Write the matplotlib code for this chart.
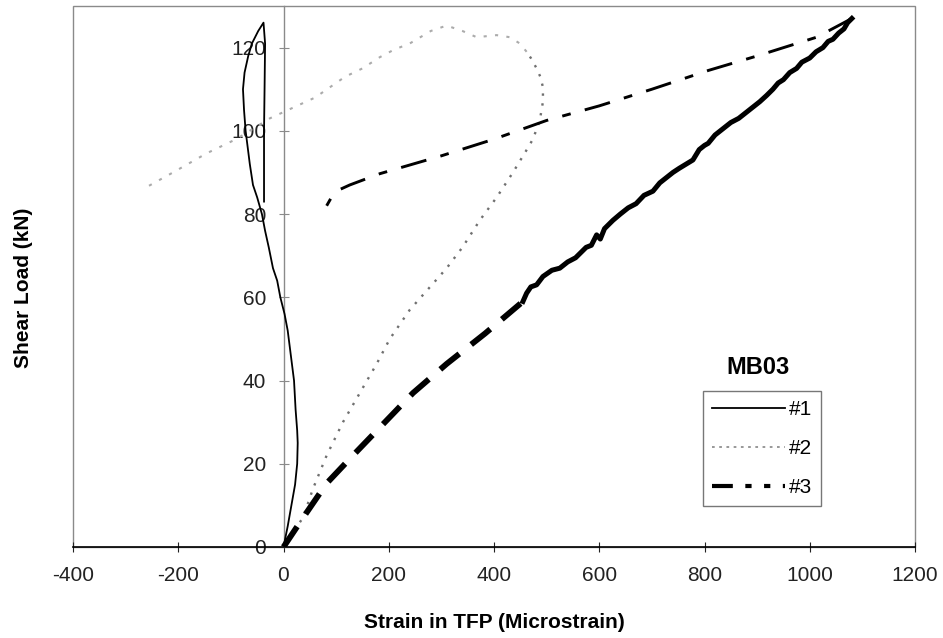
import matplotlib
matplotlib.use("Agg")
import matplotlib.pyplot as plt
from matplotlib.lines import Line2D
from matplotlib.patches import Rectangle

plt.rcParams['font.family'] = ['Liberation Sans', 'DejaVu Sans']

# Gauge #1: load vs strain
g1_strain = [0, 8, 15, 22, 26, 27, 26, 23, 20, 16, 12, 8, 2, -6, -12, -20, -28, -35, -41,
             -50, -58, -64, -68, -72, -75, -77, -74, -67, -60, -48, -38, -35, -36, -37, -37, -37]
g1_load = [0, 5, 10, 15, 20, 25, 28, 33, 40, 44, 48, 52, 56, 60, 64, 67, 72, 76, 80,
           84, 87, 92, 96, 100, 105, 110, 114, 118, 121, 124, 126, 121, 110, 100, 90, 83]

# Gauge #2
g2_strain = [0, 20, 37, 56, 82, 113, 145, 177, 202, 240, 275, 310, 340, 373, 405, 436, 460,
             474, 487, 493, 493, 488, 481, 470, 462, 449, 430, 405, 367, 340, 310, 280, 240,
             210, 183, 150, 117, 60, -26, -90, -146, -210, -267]
g2_load = [0, 4, 7, 14, 22, 30, 37, 44, 50, 57, 62, 67, 72, 78.5, 84, 90, 95,
           98, 102.5, 107, 110.5, 113, 115, 117.5, 119, 121, 122.5, 123, 122.5, 124, 125.3, 124, 121,
           119.5, 117.7, 115, 113, 108, 103, 98, 94.6, 90, 86]
g2_fade = 24  # readings after this index are drawn fainter

# Gauge #3: sparse initial loading, dense loading to peak, unloading
g3_strain = [0, 37, 82, 132, 189, 246, 310, 383, 455,
             462, 470, 481, 493, 510, 525, 540, 555, 563, 575, 585, 595, 602, 610, 626, 640,
             655, 670, 685, 702, 715, 725, 740, 752, 765, 778, 790, 800, 807, 820, 835, 850,
             865, 880, 895, 905, 918, 930, 940, 950, 962, 975, 985, 1000, 1012, 1025, 1035,
             1044, 1055, 1065, 1072, 1080,
             1013, 900, 807, 700, 600, 500, 400, 300, 183, 126, 100, 91, 82]
g3_load = [0, 7, 15.3, 22, 29.5, 37, 44, 51.3, 59,
           61, 62.5, 63, 65, 66.5, 67, 68.5, 69.5, 70.5, 72, 72.5, 75, 74, 76.5, 78.5, 80,
           81.5, 82.5, 84.5, 85.5, 87.5, 88.5, 90, 91, 92, 93, 95.5, 96.5, 97, 99, 100.5, 102,
           103, 104.5, 106, 107, 108.5, 110, 111.5, 112.3, 114, 115, 116.5, 117.5, 119, 120, 121.5,
           122, 123.5, 124.5, 126, 127,
           122.5, 118, 114.5, 110, 106, 102.5, 98, 94, 89.7, 87, 85.5, 84, 82]
g3_dense_start = 8   # index where closely spaced readings begin
g3_peak = 60         # index of the peak load

x_ticks = [-400, -200, 0, 200, 400, 600, 800, 1000, 1200]
y_ticks = [0, 20, 40, 60, 80, 100, 120]

fig = plt.figure(figsize=(9.43, 6.38), dpi=100)
ax = fig.add_axes([73 / 943, 1 - 547 / 638, 842 / 943, 541 / 638])
ax.set_xlim(-400, 1200)
ax.set_ylim(0, 130)

# Plot-area frame
frame_grey = '#8a8a8a'
ax.add_patch(Rectangle((0, 0), 1, 1, transform=ax.transAxes, fill=False,
                       edgecolor=frame_grey, lw=1.0, zorder=0.5, clip_on=False))
for s in ['top', 'right']:
    ax.spines[s].set_visible(False)
ax.spines['left'].set_position(('data', 0))
ax.spines['left'].set_color(frame_grey)
ax.spines['left'].set_linewidth(1.0)
ax.spines['bottom'].set_color('black')
ax.spines['bottom'].set_linewidth(1.2)

ax.set_xticks(x_ticks)
ax.set_yticks(y_ticks)
ax.set_xticklabels([str(v) for v in x_ticks])
ax.set_yticklabels([str(v) for v in y_ticks])
ax.tick_params(axis='both', direction='inout', length=7, width=0.8, labelsize=15,
               colors='#222222')
ax.tick_params(axis='x', pad=10)
ax.tick_params(axis='y', pad=9, color=frame_grey)

# Curves
ax.plot(g1_strain, g1_load, color='black', lw=1.3, zorder=3)
ax.plot(g2_strain[:g2_fade + 1], g2_load[:g2_fade + 1], color='#707070', lw=1.7,
        ls=(0, (1, 3.2)), zorder=3)
ax.plot(g2_strain[g2_fade:], g2_load[g2_fade:], color='#ababab', lw=1.5,
        ls=(0, (1.5, 4)), zorder=3)

ax.plot(g3_strain[:g3_dense_start + 1], g3_load[:g3_dense_start + 1], color='black',
        lw=4.2, ls=(0, (4.2, 2.6)), zorder=3)
ax.plot(g3_strain[g3_dense_start:g3_peak + 1], g3_load[g3_dense_start:g3_peak + 1],
        color='black', lw=3.6, zorder=3)
ax.plot(g3_strain[g3_peak:], g3_load[g3_peak:], color='black', lw=2.1,
        ls=(0, (9, 5, 3, 5)), zorder=3)

ax.set_xlabel('Strain in TFP (Microstrain)', fontsize=15, fontweight='bold', labelpad=20)
ax.set_ylabel('Shear Load (kN)', fontsize=15, fontweight='bold')
ax.yaxis.set_label_coords((33 - 73) / 842, (547 - 288) / 541)

# Legend
handles = [
    Line2D([], [], color='black', lw=1.3),
    Line2D([], [], color='#909090', lw=1.3, ls=(0, (1.5, 2.5))),
    Line2D([], [], color='black', lw=3.0, ls=(0, (5, 3, 1.5, 3, 1.5, 3))),
]
leg = ax.legend(handles, ['#1', '#2', '#3'], loc='upper left',
                bbox_to_anchor=((703 - 73) / 842, (547 - 391) / 541),
                frameon=True, fancybox=False, fontsize=15, handlelength=3.5,
                handletextpad=0.15, labelspacing=0.95, borderpad=0.45,
                borderaxespad=0)
leg.get_frame().set_edgecolor('#555555')
leg.get_frame().set_linewidth(1.0)

ax.text((758 - 73) / 842, (547 - 367) / 541, 'MB03', transform=ax.transAxes,
        fontsize=17, fontweight='bold', ha='center', va='center')

fig.savefig('out.png', dpi=100)
